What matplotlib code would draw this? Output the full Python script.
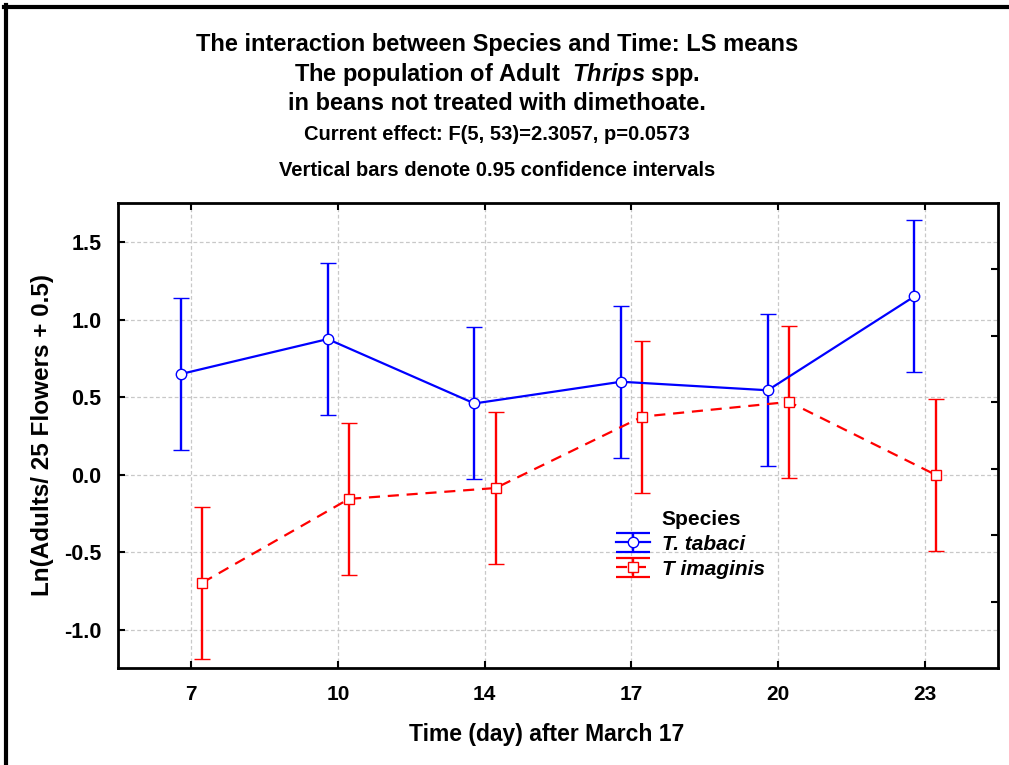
import numpy as np
import matplotlib.pyplot as plt
from matplotlib.lines import Line2D
from matplotlib.legend_handler import HandlerErrorbar

plt.rcParams['font.family'] = ['Liberation Sans', 'DejaVu Sans']
plt.rcParams['font.weight'] = 'bold'
plt.rcParams['axes.labelweight'] = 'bold'
plt.rcParams['mathtext.fontset'] = 'custom'
plt.rcParams['mathtext.rm'] = 'Liberation Sans:bold'
plt.rcParams['mathtext.it'] = 'Liberation Sans:bold:italic'

# data
days = ['7', '10', '14', '17', '20', '23']
tabaci_mean = [0.65, 0.875, 0.46, 0.60, 0.545, 1.15]
tabaci_ci = [0.49, 0.49, 0.49, 0.49, 0.49, 0.49]
imaginis_mean = [-0.695, -0.155, -0.085, 0.375, 0.47, 0.0]
imaginis_ci = [0.49, 0.49, 0.49, 0.49, 0.49, 0.49]
yticks = [-1.0, -0.5, 0.0, 0.5, 1.0, 1.5]


class WideCaps(HandlerErrorbar):
    def create_artists(self, *args, **kw):
        arts = super().create_artists(*args, **kw)
        for a in arts:
            if isinstance(a, Line2D) and a.get_marker() == '_':
                a.set_markersize(25)
                a.set_markeredgewidth(1.6)
        return arts


fig = plt.figure(figsize=(10.09, 7.65), dpi=100)
ax = fig.add_axes([118 / 1009, 1 - 668 / 765, (998 - 118) / 1009, (668 - 203) / 765])

x = np.arange(len(days))
blue = '#0000ff'
red = '#ff0000'

eb1 = ax.errorbar(x - 0.07, tabaci_mean, yerr=tabaci_ci, color=blue, lw=1.6,
                  elinewidth=1.7, capsize=5.5, capthick=1.8, marker='o', ms=7.5,
                  mfc='white', mec=blue, mew=1, zorder=3)
eb2 = ax.errorbar(x + 0.075, imaginis_mean, yerr=imaginis_ci, color=red, lw=1.6,
                  elinewidth=1.7, capsize=5.5, capthick=1.8, marker='s', ms=7.5,
                  mfc='white', mec=red, mew=1, zorder=3)
eb2.lines[0].set_dashes([5, 3.5])

ax.set_xlim(-0.5, 5.5)
ax.set_ylim(-1.245, 1.752)
ax.set_xticks(x)
ax.set_xticklabels(days, fontsize=15, fontweight='bold')
ax.set_yticks(yticks)
ax.set_yticklabels(['%.1f' % v for v in yticks], fontsize=15.5, fontweight='bold')
ax.tick_params(direction='in', length=5, width=1.5, top=True)
ax.tick_params(axis='y', pad=12)
ax.tick_params(axis='x', pad=12)
ax.grid(True, color='#c8c8c8', ls=(0, (3, 2)), lw=0.9)
for s in ax.spines.values():
    s.set_linewidth(2)

# right-hand ticks (no labels)
ax2 = ax.twinx()
ax2.set_ylim(0, 7)
ax2.set_yticks([1, 2, 3, 4, 5, 6])
ax2.tick_params(direction='in', length=5, width=1.5, labelright=False)
for s in ax2.spines.values():
    s.set_visible(False)

ax.set_xlabel('Time (day) after March 17', fontsize=16.5)
ax.xaxis.set_label_coords(0.4875, -0.118)
ax.set_ylabel('Ln(Adults/ 25 Flowers + 0.5)', fontsize=17.5)
ax.yaxis.set_label_coords(-0.073, 0.5)

leg = ax.legend([eb1, eb2], ['T. tabaci', 'T imaginis'], loc='upper left',
                bbox_to_anchor=(0.545, 0.327), frameon=False, handlelength=1.6,
                handletextpad=0.6, labelspacing=0.28,
                prop={'size': 15, 'weight': 'bold', 'style': 'italic'},
                handler_map={type(eb1): WideCaps(xerr_size=0.45)})
ax.text(0.618, 0.319, 'Species', transform=ax.transAxes, fontsize=15,
        ha='left', va='center')

# title block
cx = 497 / 1009
fig.text(cx, 1 - 44 / 765, 'The interaction between Species and Time: LS means',
         ha='center', va='center', fontsize=17)
fig.text(cx, 1 - 74 / 765, r'The population of Adult  $\mathit{Thrips}$ spp.',
         ha='center', va='center', fontsize=17)
fig.text(cx, 1 - 103 / 765, 'in beans not treated with dimethoate.',
         ha='center', va='center', fontsize=17)
fig.text(cx, 1 - 135 / 765, 'Current effect: F(5, 53)=2.3057, p=0.0573',
         ha='center', va='center', fontsize=14.5)
fig.text(cx, 1 - 170 / 765, 'Vertical bars denote 0.95 confidence intervals',
         ha='center', va='center', fontsize=14.5)

# outer frame (left and top only)
fig.add_artist(Line2D([6 / 1009, 6 / 1009], [0, 1 - 5 / 765], color='black',
                      lw=3, transform=fig.transFigure))
fig.add_artist(Line2D([4 / 1009, 1], [1 - 6.5 / 765, 1 - 6.5 / 765],
                      color='black', lw=3, transform=fig.transFigure))

fig.savefig('out.png', dpi=100)
